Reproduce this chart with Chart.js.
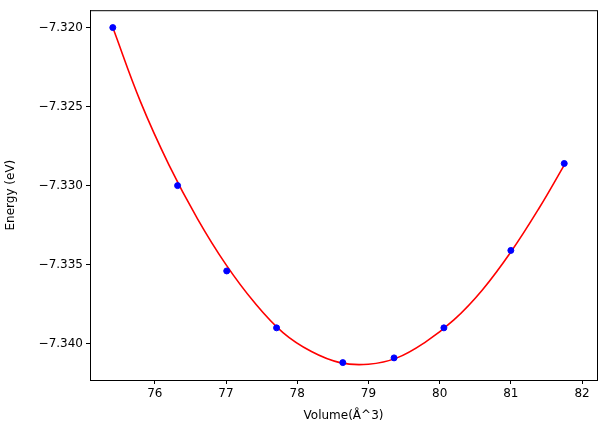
<!DOCTYPE html>
<html>
<head>
<meta charset="utf-8">
<script src="https://cdn.jsdelivr.net/npm/chart.js@4/dist/chart.umd.min.js"></script>
<style>
  html, body { margin: 0; padding: 0; background: #fff; }
  #wrap { width: 603px; height: 433px; }
</style>
</head>
<body>
<div id="wrap"><canvas id="c" width="603" height="433"></canvas></div>
<script>
// measured points (volume, energy)
const volumes = [75.41, 76.32, 77.01, 77.71, 78.64, 79.36, 80.06, 81.00, 81.75];
const energies = [-7.3200, -7.3300, -7.3354, -7.3390, -7.3412, -7.3409, -7.3390, -7.3341, -7.3286];

// fitted curve
const fitVolumes = [75.41, 75.8, 76.2, 76.6, 77.0, 77.4, 77.8, 78.2, 78.6, 79.0, 79.4, 79.8, 80.2, 80.6, 81.0, 81.4, 81.75];
const fitEnergies = [-7.3200, -7.3247, -7.3287, -7.3321, -7.3350, -7.3374, -7.3393, -7.3405, -7.3412, -7.3413, -7.3409, -7.3399, -7.3385, -7.3366, -7.3342, -7.3314, -7.3287];

const xTicks = [76, 77, 78, 79, 80, 81, 82];
const yTicks = [-7.340, -7.335, -7.330, -7.325, -7.320];

const toPoints = (xs, ys) => xs.map((x, i) => ({ x: x, y: ys[i] }));

const frame = {
  id: 'frame',
  afterDraw(chart) {
    const a = chart.chartArea, ctx = chart.ctx;
    ctx.save();
    ctx.strokeStyle = '#000';
    ctx.lineWidth = 1;
    ctx.strokeRect(a.left + 0.5, a.top + 0.5, a.right - a.left, a.bottom - a.top);
    ctx.restore();
  }
};

const tickFont = { family: 'DejaVu Sans', size: 12 };

new Chart(document.getElementById('c'), {
  type: 'scatter',
  data: {
    datasets: [
      {
        data: toPoints(fitVolumes, fitEnergies),
        showLine: true,
        borderColor: '#ff0000',
        borderWidth: 1.6,
        pointRadius: 0,
        tension: 0.4,
        order: 2
      },
      {
        data: toPoints(volumes, energies),
        backgroundColor: '#0000ff',
        borderColor: '#0000ff',
        pointRadius: 3,
        order: 1
      }
    ]
  },
  options: {
    responsive: false,
    animation: false,
    layout: { padding: { top: 10, right: 6, left: 0, bottom: 10 } },
    plugins: { legend: { display: false }, tooltip: { enabled: false } },
    scales: {
      x: {
        type: 'linear',
        min: 75.09,
        max: 82.21,
        afterBuildTicks: s => { s.ticks = xTicks.map(v => ({ value: v })); },
        afterFit: s => { s.height = 43; },
        ticks: { color: '#000', font: tickFont, maxRotation: 0, padding: 3, callback: v => String(v) },
        grid: { drawOnChartArea: false, tickLength: 4, color: '#000' },
        border: { color: '#000' },
        title: { display: true, text: 'Volume(Å^3)', color: '#000', font: tickFont, padding: 0 }
      },
      y: {
        type: 'linear',
        min: -7.3423,
        max: -7.3189,
        afterBuildTicks: s => { s.ticks = yTicks.map(v => ({ value: v })); },
        afterFit: s => { s.width = 90; },
        ticks: { color: '#000', font: tickFont, padding: 3, callback: v => '\u2212' + Math.abs(v).toFixed(3) },
        grid: { drawOnChartArea: false, tickLength: 4, color: '#000' },
        border: { color: '#000' },
        title: { display: true, text: 'Energy (eV)', color: '#000', font: tickFont, padding: { top: 4, bottom: 4 } }
      }
    }
  },
  plugins: [frame]
});
</script>
</body>
</html>
